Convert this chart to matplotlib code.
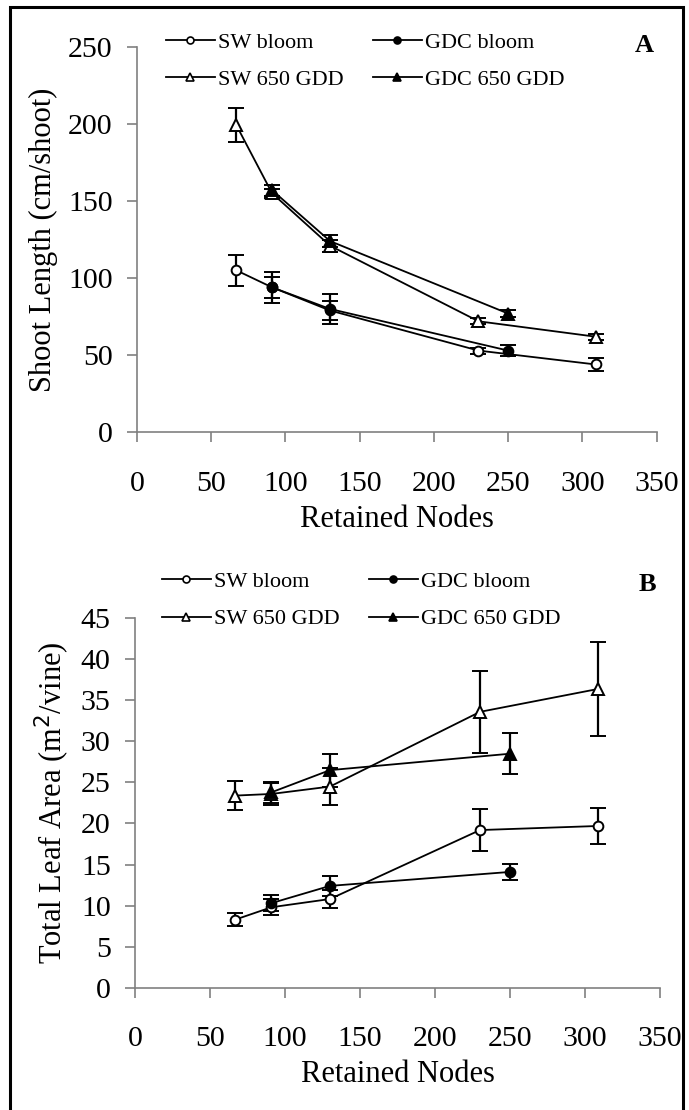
import numpy as np
import matplotlib.pyplot as plt
from matplotlib.lines import Line2D
from matplotlib.patches import Rectangle

plt.rcParams['font.family'] = ['Liberation Serif', 'DejaVu Serif']

# panel A - shoot length (cm/shoot)
sw_nodes = [67, 91, 130, 230, 309]
gdc_nodes = [91, 130, 250]

a_sw_bloom = [105, 94, 79, 53, 44]
a_sw_bloom_err = [10, 7, 6, 2, 4.5]
a_gdc_bloom = [94, 80, 53]
a_gdc_bloom_err = [10, 9.5, 3.5]
a_sw_gdd = [199, 155, 121, 72, 62]
a_sw_gdd_err = [11, 3, 4, 2, 2]
a_gdc_gdd = [157, 124, 77]
a_gdc_gdd_err = [3.5, 4, 2]

# panel B - total leaf area (m2/vine)
b_sw_bloom = [8.3, 9.8, 10.8, 19.2, 19.7]
b_sw_bloom_err = [0.8, 1.0, 1.1, 2.6, 2.2]
b_gdc_bloom = [10.3, 12.4, 14.1]
b_gdc_bloom_err = [1.0, 1.2, 1.0]
b_sw_gdd = [23.4, 23.6, 24.5, 33.6, 36.4]
b_sw_gdd_err = [1.8, 1.3, 2.3, 5.0, 5.7]
b_gdc_gdd = [23.8, 26.5, 28.5]
b_gdc_gdd_err = [1.3, 2.0, 2.5]

labels = ['SW bloom', 'SW 650 GDD', 'GDC bloom', 'GDC 650 GDD']
x_ticks = [0, 50, 100, 150, 200, 250, 300, 350]

fig = plt.figure(figsize=(6.89, 11.10), dpi=100)
axA = fig.add_axes([0.1988, 0.6105, 0.7543, 0.3474])
axB = fig.add_axes([0.1959, 0.1102, 0.7620, 0.3328])

styles = {
    'SW bloom': dict(marker='o', mfc='white', ms=7),
    'GDC bloom': dict(marker='o', mfc='black', ms=7),
    'SW 650 GDD': dict(marker='^', mfc='white', ms=8),
    'GDC 650 GDD': dict(marker='^', mfc='black', ms=8),
}


def draw(ax, x, y, err, name):
    st = styles[name]
    ax.errorbar(x, y, yerr=err, color='black', lw=1.3, elinewidth=1.6,
                capsize=5.5, capthick=1.6, marker=st['marker'], ms=st['ms'],
                mfc=st['mfc'], mec='black', mew=1.4, zorder=3)


draw(axA, sw_nodes, a_sw_bloom, a_sw_bloom_err, 'SW bloom')
draw(axA, gdc_nodes, a_gdc_bloom, a_gdc_bloom_err, 'GDC bloom')
draw(axA, sw_nodes, a_sw_gdd, a_sw_gdd_err, 'SW 650 GDD')
draw(axA, gdc_nodes, a_gdc_gdd, a_gdc_gdd_err, 'GDC 650 GDD')

draw(axB, sw_nodes, b_sw_bloom, b_sw_bloom_err, 'SW bloom')
draw(axB, gdc_nodes, b_gdc_bloom, b_gdc_bloom_err, 'GDC bloom')
draw(axB, sw_nodes, b_sw_gdd, b_sw_gdd_err, 'SW 650 GDD')
draw(axB, gdc_nodes, b_gdc_gdd, b_gdc_gdd_err, 'GDC 650 GDD')

for ax in (axA, axB):
    ax.set_xlim(0, 350)
    ax.set_xticks(x_ticks)
    for s in ('top', 'right'):
        ax.spines[s].set_visible(False)
    for s in ('left', 'bottom'):
        ax.spines[s].set_color('#808080')
        ax.spines[s].set_linewidth(1.2)
    ax.tick_params(axis='both', direction='out', length=7.5, width=1.2,
                   color='#808080', labelsize=21.5)
    ax.tick_params(axis='x', pad=20)
    ax.tick_params(axis='y', pad=10)
    ax.set_xlabel('Retained Nodes', fontsize=22, labelpad=6)

axA.set_ylim(0, 250)
axA.set_yticks([0, 50, 100, 150, 200, 250])
axA.set_ylabel('Shoot Length (cm/shoot)', fontsize=22)
axA.yaxis.set_label_coords(-0.152, 0.5)

axB.set_ylim(0, 45)
axB.set_yticks(np.arange(0, 46, 5))
axB.set_ylabel('Total Leaf Area (m$^2$/vine)', fontsize=22)
axB.yaxis.set_label_coords(-0.12, 0.5)

# legends
handles = []
for name in labels:
    st = styles[name]
    handles.append(Line2D([], [], color='black', lw=1.3, marker=st['marker'],
                          ms=st['ms'] - 2, mfc=st['mfc'], mec='black', mew=1.2))

for yc, xl in ((0.945, 0.241), (0.459, 0.235)):
    fig.legend(handles, labels, loc='center left', bbox_to_anchor=(xl, yc),
               ncol=2, frameon=False, fontsize=16, handlelength=2.2,
               handletextpad=0.15, columnspacing=1.3, labelspacing=0.75,
               borderpad=0, borderaxespad=0)

fig.text(0.935, 0.959, 'A', fontsize=19, fontweight='bold', ha='center', va='center')
fig.text(0.94, 0.473, 'B', fontsize=19, fontweight='bold', ha='center', va='center')

# frame around the figure, open at the bottom edge
fig.add_artist(Rectangle((0.0145, -0.01), 0.977, 1.004, transform=fig.transFigure,
                         fill=False, lw=2.2, color='black'))

fig.savefig('out.png', dpi=100)
